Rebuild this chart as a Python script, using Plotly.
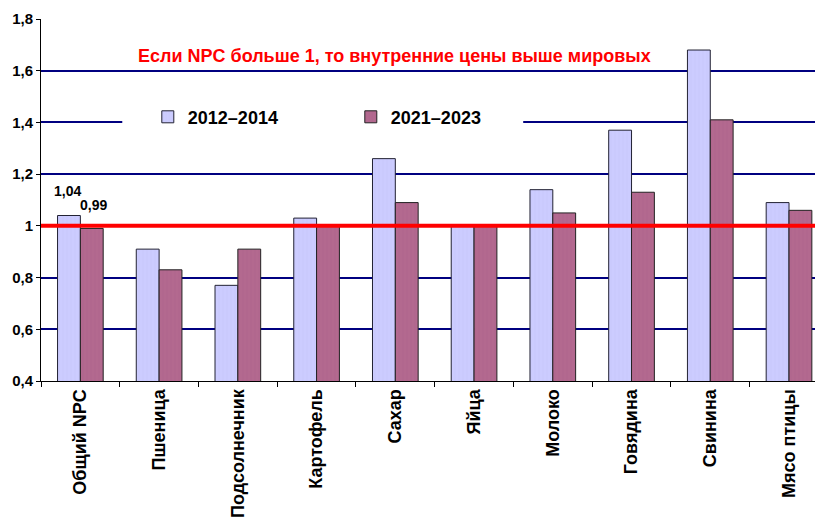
import plotly.graph_objects as go

categories = [
    "Общий NPC",
    "Пшеница",
    "Подсолнечник",
    "Картофель",
    "Сахар",
    "Яйца",
    "Молоко",
    "Говядина",
    "Свинина",
    "Мясо птицы",
]
npc_2012_2014 = [1.04, 0.91, 0.77, 1.03, 1.26, 1.00, 1.14, 1.37, 1.68, 1.09]
npc_2021_2023 = [0.99, 0.83, 0.91, 1.00, 1.09, 1.00, 1.05, 1.13, 1.41, 1.06]
y_ticks = [0.4, 0.6, 0.8, 1.0, 1.2, 1.4, 1.6, 1.8]
threshold = 1.0

FONT = "Arial, Liberation Sans, sans-serif"

fig = go.Figure()
fig.add_trace(
    go.Bar(
        x=categories,
        y=npc_2012_2014,
        name="2012–2014",
        marker=dict(
            color="#CCCCFF",
            line=dict(color="#222233", width=1),
            pattern=dict(shape="|", fgcolor="#BABAF0", size=4, solidity=0.15),
        ),
    )
)
fig.add_trace(
    go.Bar(
        x=categories,
        y=npc_2021_2023,
        name="2021–2023",
        marker=dict(
            color="#B3698F",
            line=dict(color="#222222", width=1),
            pattern=dict(shape="|", fgcolor="#A55C82", size=4, solidity=0.15),
        ),
    )
)

# red line at NPC = 1
fig.add_shape(
    type="line", xref="paper", x0=0, x1=1, yref="y",
    y0=threshold, y1=threshold,
    line=dict(color="#FF0000", width=4), layer="above",
)
# white box behind the legend (hides the gridline like in the original)
fig.add_shape(
    type="rect", xref="paper", x0=0.105, x1=0.623, yref="y", y0=1.34, y1=1.46,
    fillcolor="white", line_width=0, layer="above",
)

# labels for the first group
fig.add_annotation(
    x=categories[0], y=npc_2012_2014[0], text="<b>1,04</b>", showarrow=False,
    xshift=-13, yshift=25, font=dict(family=FONT, size=14, color="#000000"),
)
fig.add_annotation(
    x=categories[0], y=npc_2021_2023[0], text="<b>0,99</b>", showarrow=False,
    xshift=13, yshift=23, font=dict(family=FONT, size=14, color="#000000"),
)

fig.add_annotation(
    xref="paper", yref="paper", x=0.457, y=0.931,
    text="<b>Если NPC больше 1, то внутренние цены выше мировых</b>",
    showarrow=False, font=dict(family=FONT, size=18, color="#FF0000"),
)

fig.update_layout(
    width=815,
    height=526,
    margin=dict(l=41, r=0, t=19, b=145),
    paper_bgcolor="white",
    plot_bgcolor="white",
    barmode="group",
    bargap=0.42,
    bargroupgap=0,
    separators=", ",
    font=dict(family=FONT, size=13, color="#000000"),
    showlegend=True,
    legend=dict(
        orientation="h",
        x=0.138,
        y=0.729,
        xanchor="left",
        yanchor="middle",
        bgcolor="rgba(0,0,0,0)",
        entrywidth=158,
        font=dict(family=FONT, size=18, color="#000000", weight="bold"),
    ),
    xaxis=dict(
        range=[-0.5, 9.33],
        showline=True,
        linecolor="#000000",
        linewidth=1,
        ticks="outside",
        tickson="boundaries",
        ticklen=5,
        tickcolor="#000000",
        tickangle=-90,
        tickfont=dict(family=FONT, size=18, weight="bold"),
        showgrid=False,
    ),
    yaxis=dict(
        range=[0.4, 1.8],
        tickvals=y_ticks,
        showline=True,
        linecolor="#000000",
        linewidth=1,
        ticks="outside",
        ticklen=4,
        tickcolor="#000000",
        showgrid=True,
        gridcolor="#000080",
        gridwidth=2,
        zeroline=False,
        tickfont=dict(family=FONT, size=15, weight="bold"),
    ),
)

fig.write_html(
    "out.html",
    config={"displayModeBar": False},
    post_script="document.body.style.margin='0';document.body.style.overflow='hidden';",
)
